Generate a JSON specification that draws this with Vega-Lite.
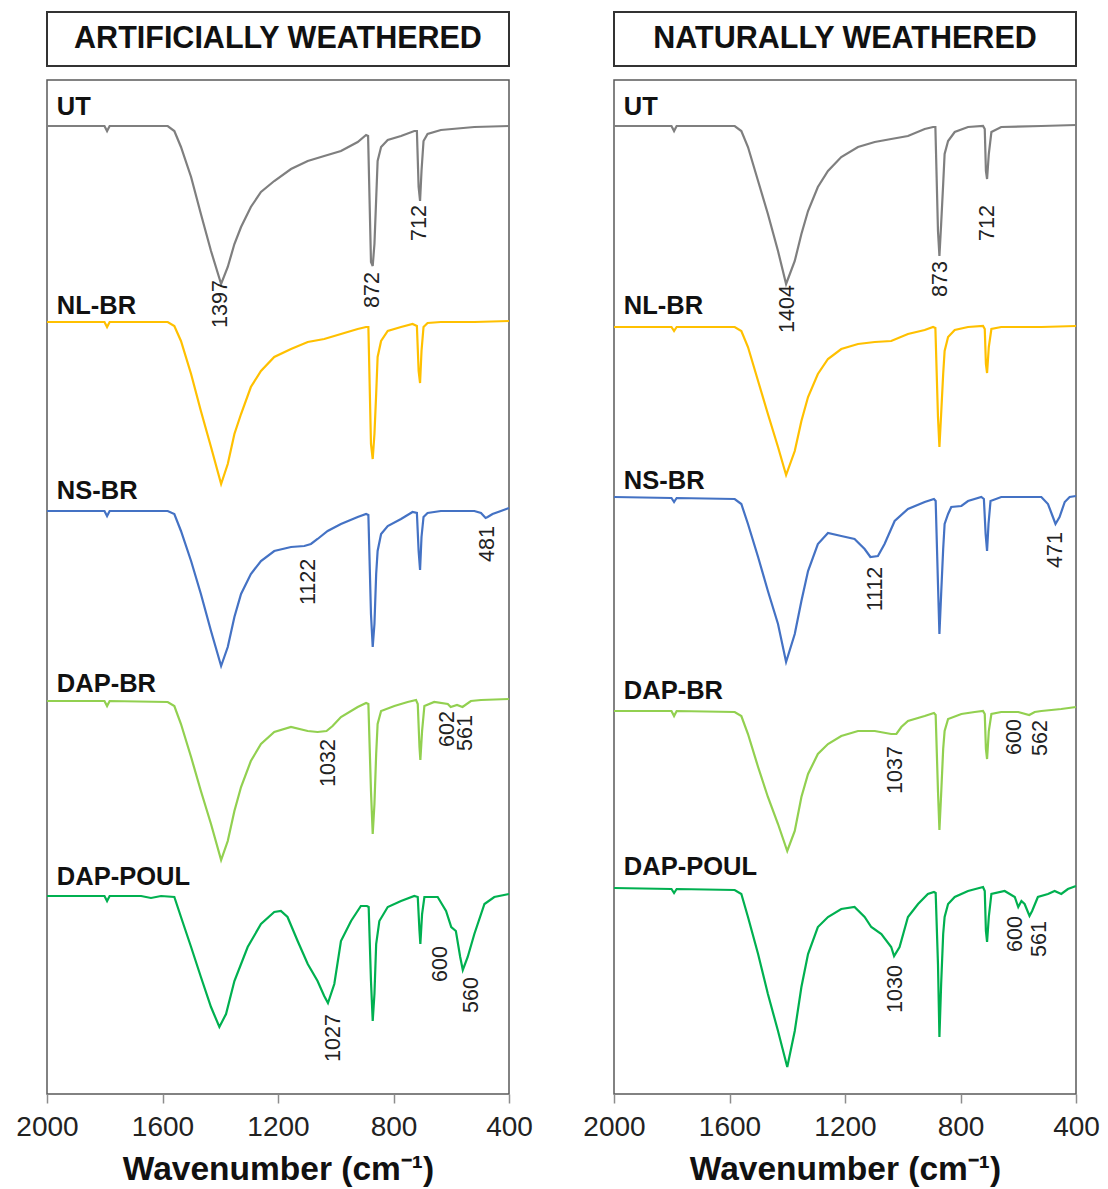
{
  "$schema": "https://vega.github.io/schema/vega-lite/v6.json",
  "padding": {"left": 15, "top": 11, "right": 2, "bottom": 0},
  "background": "white",
  "config": {
    "view": {"stroke": "#595959", "strokeWidth": 1.5},
    "font": "Liberation Sans",
    "axis": {"labelFont": "Liberation Sans", "titleFont": "Liberation Sans"}
  },
  "datasets": {
    "spectra": [
      {"p":"A","s":"UT","wn":2000,"v":968},{"p":"A","s":"UT","wn":1801,"v":968},{"p":"A","s":"UT","wn":1792,"v":963},{"p":"A","s":"UT","wn":1783,"v":968},{"p":"A","s":"UT","wn":1582,"v":968},{"p":"A","s":"UT","wn":1559,"v":963},{"p":"A","s":"UT","wn":1536,"v":947},{"p":"A","s":"UT","wn":1501,"v":917},{"p":"A","s":"UT","wn":1467,"v":880},{"p":"A","s":"UT","wn":1432,"v":843},{"p":"A","s":"UT","wn":1397,"v":810},{"p":"A","s":"UT","wn":1374,"v":827},{"p":"A","s":"UT","wn":1351,"v":850},{"p":"A","s":"UT","wn":1328,"v":867},{"p":"A","s":"UT","wn":1294,"v":887},{"p":"A","s":"UT","wn":1259,"v":902},{"p":"A","s":"UT","wn":1213,"v":913},{"p":"A","s":"UT","wn":1155,"v":925},{"p":"A","s":"UT","wn":1097,"v":933},{"p":"A","s":"UT","wn":1040,"v":938},{"p":"A","s":"UT","wn":982,"v":943},{"p":"A","s":"UT","wn":924,"v":952},{"p":"A","s":"UT","wn":895,"v":959},{"p":"A","s":"UT","wn":888,"v":958},{"p":"A","s":"UT","wn":878,"v":832},{"p":"A","s":"UT","wn":872,"v":828},{"p":"A","s":"UT","wn":866,"v":850},{"p":"A","s":"UT","wn":860,"v":895},{"p":"A","s":"UT","wn":855,"v":933},{"p":"A","s":"UT","wn":843,"v":947},{"p":"A","s":"UT","wn":820,"v":954},{"p":"A","s":"UT","wn":774,"v":958},{"p":"A","s":"UT","wn":728,"v":963},{"p":"A","s":"UT","wn":719,"v":963},{"p":"A","s":"UT","wn":713,"v":907},{"p":"A","s":"UT","wn":708,"v":893},{"p":"A","s":"UT","wn":703,"v":923},{"p":"A","s":"UT","wn":696,"v":953},{"p":"A","s":"UT","wn":682,"v":960},{"p":"A","s":"UT","wn":636,"v":964},{"p":"A","s":"UT","wn":520,"v":967},{"p":"A","s":"UT","wn":400,"v":968},

      {"p":"A","s":"NL-BR","wn":2000,"v":772},{"p":"A","s":"NL-BR","wn":1801,"v":772},{"p":"A","s":"NL-BR","wn":1792,"v":767},{"p":"A","s":"NL-BR","wn":1783,"v":772},{"p":"A","s":"NL-BR","wn":1582,"v":772},{"p":"A","s":"NL-BR","wn":1559,"v":768},{"p":"A","s":"NL-BR","wn":1536,"v":753},{"p":"A","s":"NL-BR","wn":1501,"v":720},{"p":"A","s":"NL-BR","wn":1467,"v":683},{"p":"A","s":"NL-BR","wn":1432,"v":647},{"p":"A","s":"NL-BR","wn":1397,"v":610},{"p":"A","s":"NL-BR","wn":1374,"v":630},{"p":"A","s":"NL-BR","wn":1351,"v":660},{"p":"A","s":"NL-BR","wn":1328,"v":680},{"p":"A","s":"NL-BR","wn":1294,"v":707},{"p":"A","s":"NL-BR","wn":1259,"v":723},{"p":"A","s":"NL-BR","wn":1213,"v":737},{"p":"A","s":"NL-BR","wn":1155,"v":745},{"p":"A","s":"NL-BR","wn":1097,"v":752},{"p":"A","s":"NL-BR","wn":1040,"v":755},{"p":"A","s":"NL-BR","wn":982,"v":760},{"p":"A","s":"NL-BR","wn":924,"v":765},{"p":"A","s":"NL-BR","wn":895,"v":767},{"p":"A","s":"NL-BR","wn":887,"v":767},{"p":"A","s":"NL-BR","wn":878,"v":650},{"p":"A","s":"NL-BR","wn":872,"v":635},{"p":"A","s":"NL-BR","wn":866,"v":660},{"p":"A","s":"NL-BR","wn":860,"v":700},{"p":"A","s":"NL-BR","wn":855,"v":737},{"p":"A","s":"NL-BR","wn":843,"v":753},{"p":"A","s":"NL-BR","wn":820,"v":763},{"p":"A","s":"NL-BR","wn":774,"v":767},{"p":"A","s":"NL-BR","wn":734,"v":770},{"p":"A","s":"NL-BR","wn":719,"v":768},{"p":"A","s":"NL-BR","wn":713,"v":723},{"p":"A","s":"NL-BR","wn":708,"v":711},{"p":"A","s":"NL-BR","wn":703,"v":743},{"p":"A","s":"NL-BR","wn":696,"v":767},{"p":"A","s":"NL-BR","wn":682,"v":771},{"p":"A","s":"NL-BR","wn":636,"v":772},{"p":"A","s":"NL-BR","wn":520,"v":772},{"p":"A","s":"NL-BR","wn":400,"v":773},

      {"p":"A","s":"NS-BR","wn":2000,"v":583},{"p":"A","s":"NS-BR","wn":1801,"v":583},{"p":"A","s":"NS-BR","wn":1792,"v":578},{"p":"A","s":"NS-BR","wn":1783,"v":583},{"p":"A","s":"NS-BR","wn":1582,"v":583},{"p":"A","s":"NS-BR","wn":1559,"v":580},{"p":"A","s":"NS-BR","wn":1536,"v":563},{"p":"A","s":"NS-BR","wn":1501,"v":533},{"p":"A","s":"NS-BR","wn":1467,"v":500},{"p":"A","s":"NS-BR","wn":1432,"v":463},{"p":"A","s":"NS-BR","wn":1397,"v":428},{"p":"A","s":"NS-BR","wn":1374,"v":447},{"p":"A","s":"NS-BR","wn":1351,"v":477},{"p":"A","s":"NS-BR","wn":1328,"v":500},{"p":"A","s":"NS-BR","wn":1294,"v":520},{"p":"A","s":"NS-BR","wn":1259,"v":533},{"p":"A","s":"NS-BR","wn":1213,"v":543},{"p":"A","s":"NS-BR","wn":1155,"v":547},{"p":"A","s":"NS-BR","wn":1109,"v":548},{"p":"A","s":"NS-BR","wn":1086,"v":550},{"p":"A","s":"NS-BR","wn":1063,"v":555},{"p":"A","s":"NS-BR","wn":1028,"v":563},{"p":"A","s":"NS-BR","wn":982,"v":570},{"p":"A","s":"NS-BR","wn":924,"v":577},{"p":"A","s":"NS-BR","wn":895,"v":580},{"p":"A","s":"NS-BR","wn":887,"v":579},{"p":"A","s":"NS-BR","wn":878,"v":480},{"p":"A","s":"NS-BR","wn":872,"v":447},{"p":"A","s":"NS-BR","wn":866,"v":470},{"p":"A","s":"NS-BR","wn":860,"v":520},{"p":"A","s":"NS-BR","wn":855,"v":543},{"p":"A","s":"NS-BR","wn":843,"v":560},{"p":"A","s":"NS-BR","wn":820,"v":568},{"p":"A","s":"NS-BR","wn":774,"v":575},{"p":"A","s":"NS-BR","wn":734,"v":582},{"p":"A","s":"NS-BR","wn":719,"v":581},{"p":"A","s":"NS-BR","wn":713,"v":543},{"p":"A","s":"NS-BR","wn":708,"v":524},{"p":"A","s":"NS-BR","wn":703,"v":557},{"p":"A","s":"NS-BR","wn":696,"v":577},{"p":"A","s":"NS-BR","wn":682,"v":581},{"p":"A","s":"NS-BR","wn":636,"v":583},{"p":"A","s":"NS-BR","wn":520,"v":583},{"p":"A","s":"NS-BR","wn":497,"v":581},{"p":"A","s":"NS-BR","wn":481,"v":576},{"p":"A","s":"NS-BR","wn":474,"v":577},{"p":"A","s":"NS-BR","wn":457,"v":580},{"p":"A","s":"NS-BR","wn":428,"v":583},{"p":"A","s":"NS-BR","wn":400,"v":586},

      {"p":"A","s":"DAP-BR","wn":2000,"v":393},{"p":"A","s":"DAP-BR","wn":1801,"v":393},{"p":"A","s":"DAP-BR","wn":1792,"v":388},{"p":"A","s":"DAP-BR","wn":1783,"v":393},{"p":"A","s":"DAP-BR","wn":1582,"v":392},{"p":"A","s":"DAP-BR","wn":1559,"v":388},{"p":"A","s":"DAP-BR","wn":1536,"v":370},{"p":"A","s":"DAP-BR","wn":1501,"v":337},{"p":"A","s":"DAP-BR","wn":1467,"v":303},{"p":"A","s":"DAP-BR","wn":1432,"v":270},{"p":"A","s":"DAP-BR","wn":1397,"v":234},{"p":"A","s":"DAP-BR","wn":1374,"v":253},{"p":"A","s":"DAP-BR","wn":1351,"v":283},{"p":"A","s":"DAP-BR","wn":1328,"v":307},{"p":"A","s":"DAP-BR","wn":1294,"v":333},{"p":"A","s":"DAP-BR","wn":1259,"v":350},{"p":"A","s":"DAP-BR","wn":1213,"v":362},{"p":"A","s":"DAP-BR","wn":1155,"v":367},{"p":"A","s":"DAP-BR","wn":1097,"v":363},{"p":"A","s":"DAP-BR","wn":1063,"v":362},{"p":"A","s":"DAP-BR","wn":1032,"v":363},{"p":"A","s":"DAP-BR","wn":1011,"v":368},{"p":"A","s":"DAP-BR","wn":982,"v":377},{"p":"A","s":"DAP-BR","wn":924,"v":387},{"p":"A","s":"DAP-BR","wn":895,"v":391},{"p":"A","s":"DAP-BR","wn":887,"v":390},{"p":"A","s":"DAP-BR","wn":878,"v":303},{"p":"A","s":"DAP-BR","wn":872,"v":260},{"p":"A","s":"DAP-BR","wn":866,"v":290},{"p":"A","s":"DAP-BR","wn":860,"v":340},{"p":"A","s":"DAP-BR","wn":855,"v":370},{"p":"A","s":"DAP-BR","wn":843,"v":383},{"p":"A","s":"DAP-BR","wn":797,"v":388},{"p":"A","s":"DAP-BR","wn":751,"v":392},{"p":"A","s":"DAP-BR","wn":722,"v":394},{"p":"A","s":"DAP-BR","wn":716,"v":390},{"p":"A","s":"DAP-BR","wn":710,"v":347},{"p":"A","s":"DAP-BR","wn":707,"v":334},{"p":"A","s":"DAP-BR","wn":701,"v":363},{"p":"A","s":"DAP-BR","wn":693,"v":388},{"p":"A","s":"DAP-BR","wn":659,"v":392},{"p":"A","s":"DAP-BR","wn":612,"v":390},{"p":"A","s":"DAP-BR","wn":602,"v":387},{"p":"A","s":"DAP-BR","wn":580,"v":389},{"p":"A","s":"DAP-BR","wn":561,"v":387},{"p":"A","s":"DAP-BR","wn":532,"v":393},{"p":"A","s":"DAP-BR","wn":497,"v":394},{"p":"A","s":"DAP-BR","wn":400,"v":395},

      {"p":"A","s":"DAP-POUL","wn":2000,"v":198},{"p":"A","s":"DAP-POUL","wn":1801,"v":198},{"p":"A","s":"DAP-POUL","wn":1792,"v":193},{"p":"A","s":"DAP-POUL","wn":1783,"v":198},{"p":"A","s":"DAP-POUL","wn":1674,"v":198},{"p":"A","s":"DAP-POUL","wn":1640,"v":196},{"p":"A","s":"DAP-POUL","wn":1605,"v":198},{"p":"A","s":"DAP-POUL","wn":1559,"v":197},{"p":"A","s":"DAP-POUL","wn":1536,"v":177},{"p":"A","s":"DAP-POUL","wn":1501,"v":147},{"p":"A","s":"DAP-POUL","wn":1467,"v":117},{"p":"A","s":"DAP-POUL","wn":1432,"v":87},{"p":"A","s":"DAP-POUL","wn":1403,"v":67},{"p":"A","s":"DAP-POUL","wn":1380,"v":80},{"p":"A","s":"DAP-POUL","wn":1351,"v":113},{"p":"A","s":"DAP-POUL","wn":1305,"v":147},{"p":"A","s":"DAP-POUL","wn":1259,"v":170},{"p":"A","s":"DAP-POUL","wn":1213,"v":182},{"p":"A","s":"DAP-POUL","wn":1190,"v":183},{"p":"A","s":"DAP-POUL","wn":1167,"v":177},{"p":"A","s":"DAP-POUL","wn":1132,"v":153},{"p":"A","s":"DAP-POUL","wn":1097,"v":130},{"p":"A","s":"DAP-POUL","wn":1063,"v":113},{"p":"A","s":"DAP-POUL","wn":1040,"v":98},{"p":"A","s":"DAP-POUL","wn":1027,"v":91},{"p":"A","s":"DAP-POUL","wn":1005,"v":110},{"p":"A","s":"DAP-POUL","wn":982,"v":153},{"p":"A","s":"DAP-POUL","wn":947,"v":173},{"p":"A","s":"DAP-POUL","wn":913,"v":188},{"p":"A","s":"DAP-POUL","wn":892,"v":188},{"p":"A","s":"DAP-POUL","wn":886,"v":187},{"p":"A","s":"DAP-POUL","wn":878,"v":113},{"p":"A","s":"DAP-POUL","wn":872,"v":73},{"p":"A","s":"DAP-POUL","wn":866,"v":100},{"p":"A","s":"DAP-POUL","wn":860,"v":150},{"p":"A","s":"DAP-POUL","wn":849,"v":173},{"p":"A","s":"DAP-POUL","wn":820,"v":187},{"p":"A","s":"DAP-POUL","wn":774,"v":193},{"p":"A","s":"DAP-POUL","wn":728,"v":198},{"p":"A","s":"DAP-POUL","wn":716,"v":197},{"p":"A","s":"DAP-POUL","wn":710,"v":163},{"p":"A","s":"DAP-POUL","wn":707,"v":150},{"p":"A","s":"DAP-POUL","wn":701,"v":180},{"p":"A","s":"DAP-POUL","wn":693,"v":197},{"p":"A","s":"DAP-POUL","wn":647,"v":197},{"p":"A","s":"DAP-POUL","wn":618,"v":183},{"p":"A","s":"DAP-POUL","wn":600,"v":167},{"p":"A","s":"DAP-POUL","wn":584,"v":163},{"p":"A","s":"DAP-POUL","wn":569,"v":137},{"p":"A","s":"DAP-POUL","wn":560,"v":124},{"p":"A","s":"DAP-POUL","wn":543,"v":137},{"p":"A","s":"DAP-POUL","wn":520,"v":160},{"p":"A","s":"DAP-POUL","wn":485,"v":190},{"p":"A","s":"DAP-POUL","wn":451,"v":197},{"p":"A","s":"DAP-POUL","wn":400,"v":200},

      {"p":"N","s":"UT","wn":2000,"v":968},{"p":"N","s":"UT","wn":1801,"v":968},{"p":"N","s":"UT","wn":1792,"v":963},{"p":"N","s":"UT","wn":1783,"v":968},{"p":"N","s":"UT","wn":1582,"v":968},{"p":"N","s":"UT","wn":1559,"v":963},{"p":"N","s":"UT","wn":1536,"v":947},{"p":"N","s":"UT","wn":1501,"v":913},{"p":"N","s":"UT","wn":1467,"v":880},{"p":"N","s":"UT","wn":1432,"v":843},{"p":"N","s":"UT","wn":1404,"v":810},{"p":"N","s":"UT","wn":1374,"v":833},{"p":"N","s":"UT","wn":1351,"v":860},{"p":"N","s":"UT","wn":1328,"v":883},{"p":"N","s":"UT","wn":1294,"v":907},{"p":"N","s":"UT","wn":1259,"v":923},{"p":"N","s":"UT","wn":1213,"v":937},{"p":"N","s":"UT","wn":1155,"v":947},{"p":"N","s":"UT","wn":1097,"v":952},{"p":"N","s":"UT","wn":1040,"v":955},{"p":"N","s":"UT","wn":982,"v":958},{"p":"N","s":"UT","wn":924,"v":965},{"p":"N","s":"UT","wn":895,"v":967},{"p":"N","s":"UT","wn":887,"v":967},{"p":"N","s":"UT","wn":878,"v":863},{"p":"N","s":"UT","wn":873,"v":838},{"p":"N","s":"UT","wn":867,"v":870},{"p":"N","s":"UT","wn":860,"v":910},{"p":"N","s":"UT","wn":855,"v":940},{"p":"N","s":"UT","wn":843,"v":953},{"p":"N","s":"UT","wn":820,"v":962},{"p":"N","s":"UT","wn":774,"v":967},{"p":"N","s":"UT","wn":722,"v":968},{"p":"N","s":"UT","wn":716,"v":965},{"p":"N","s":"UT","wn":712,"v":923},{"p":"N","s":"UT","wn":708,"v":915},{"p":"N","s":"UT","wn":702,"v":940},{"p":"N","s":"UT","wn":693,"v":962},{"p":"N","s":"UT","wn":659,"v":967},{"p":"N","s":"UT","wn":520,"v":968},{"p":"N","s":"UT","wn":400,"v":969},

      {"p":"N","s":"NL-BR","wn":2000,"v":767},{"p":"N","s":"NL-BR","wn":1801,"v":767},{"p":"N","s":"NL-BR","wn":1792,"v":763},{"p":"N","s":"NL-BR","wn":1783,"v":767},{"p":"N","s":"NL-BR","wn":1582,"v":767},{"p":"N","s":"NL-BR","wn":1559,"v":763},{"p":"N","s":"NL-BR","wn":1536,"v":747},{"p":"N","s":"NL-BR","wn":1501,"v":713},{"p":"N","s":"NL-BR","wn":1467,"v":680},{"p":"N","s":"NL-BR","wn":1432,"v":647},{"p":"N","s":"NL-BR","wn":1404,"v":619},{"p":"N","s":"NL-BR","wn":1374,"v":643},{"p":"N","s":"NL-BR","wn":1351,"v":673},{"p":"N","s":"NL-BR","wn":1328,"v":697},{"p":"N","s":"NL-BR","wn":1294,"v":720},{"p":"N","s":"NL-BR","wn":1259,"v":735},{"p":"N","s":"NL-BR","wn":1213,"v":745},{"p":"N","s":"NL-BR","wn":1155,"v":750},{"p":"N","s":"NL-BR","wn":1097,"v":752},{"p":"N","s":"NL-BR","wn":1040,"v":753},{"p":"N","s":"NL-BR","wn":982,"v":760},{"p":"N","s":"NL-BR","wn":924,"v":764},{"p":"N","s":"NL-BR","wn":895,"v":767},{"p":"N","s":"NL-BR","wn":887,"v":766},{"p":"N","s":"NL-BR","wn":878,"v":677},{"p":"N","s":"NL-BR","wn":873,"v":647},{"p":"N","s":"NL-BR","wn":867,"v":680},{"p":"N","s":"NL-BR","wn":860,"v":720},{"p":"N","s":"NL-BR","wn":855,"v":743},{"p":"N","s":"NL-BR","wn":843,"v":757},{"p":"N","s":"NL-BR","wn":820,"v":764},{"p":"N","s":"NL-BR","wn":774,"v":767},{"p":"N","s":"NL-BR","wn":722,"v":768},{"p":"N","s":"NL-BR","wn":716,"v":765},{"p":"N","s":"NL-BR","wn":712,"v":730},{"p":"N","s":"NL-BR","wn":708,"v":721},{"p":"N","s":"NL-BR","wn":702,"v":747},{"p":"N","s":"NL-BR","wn":693,"v":765},{"p":"N","s":"NL-BR","wn":659,"v":767},{"p":"N","s":"NL-BR","wn":520,"v":767},{"p":"N","s":"NL-BR","wn":400,"v":768},

      {"p":"N","s":"NS-BR","wn":2000,"v":597},{"p":"N","s":"NS-BR","wn":1801,"v":596},{"p":"N","s":"NS-BR","wn":1792,"v":592},{"p":"N","s":"NS-BR","wn":1783,"v":596},{"p":"N","s":"NS-BR","wn":1582,"v":595},{"p":"N","s":"NS-BR","wn":1559,"v":590},{"p":"N","s":"NS-BR","wn":1536,"v":570},{"p":"N","s":"NS-BR","wn":1501,"v":537},{"p":"N","s":"NS-BR","wn":1467,"v":503},{"p":"N","s":"NS-BR","wn":1432,"v":470},{"p":"N","s":"NS-BR","wn":1404,"v":432},{"p":"N","s":"NS-BR","wn":1374,"v":460},{"p":"N","s":"NS-BR","wn":1351,"v":493},{"p":"N","s":"NS-BR","wn":1328,"v":523},{"p":"N","s":"NS-BR","wn":1294,"v":550},{"p":"N","s":"NS-BR","wn":1259,"v":561},{"p":"N","s":"NS-BR","wn":1213,"v":558},{"p":"N","s":"NS-BR","wn":1167,"v":555},{"p":"N","s":"NS-BR","wn":1132,"v":545},{"p":"N","s":"NS-BR","wn":1112,"v":537},{"p":"N","s":"NS-BR","wn":1086,"v":538},{"p":"N","s":"NS-BR","wn":1063,"v":550},{"p":"N","s":"NS-BR","wn":1028,"v":573},{"p":"N","s":"NS-BR","wn":982,"v":585},{"p":"N","s":"NS-BR","wn":924,"v":592},{"p":"N","s":"NS-BR","wn":892,"v":595},{"p":"N","s":"NS-BR","wn":886,"v":593},{"p":"N","s":"NS-BR","wn":878,"v":510},{"p":"N","s":"NS-BR","wn":873,"v":460},{"p":"N","s":"NS-BR","wn":867,"v":500},{"p":"N","s":"NS-BR","wn":860,"v":545},{"p":"N","s":"NS-BR","wn":855,"v":570},{"p":"N","s":"NS-BR","wn":843,"v":580},{"p":"N","s":"NS-BR","wn":832,"v":587},{"p":"N","s":"NS-BR","wn":797,"v":588},{"p":"N","s":"NS-BR","wn":774,"v":593},{"p":"N","s":"NS-BR","wn":728,"v":597},{"p":"N","s":"NS-BR","wn":719,"v":595},{"p":"N","s":"NS-BR","wn":713,"v":560},{"p":"N","s":"NS-BR","wn":708,"v":543},{"p":"N","s":"NS-BR","wn":703,"v":570},{"p":"N","s":"NS-BR","wn":696,"v":593},{"p":"N","s":"NS-BR","wn":659,"v":597},{"p":"N","s":"NS-BR","wn":520,"v":597},{"p":"N","s":"NS-BR","wn":497,"v":590},{"p":"N","s":"NS-BR","wn":480,"v":577},{"p":"N","s":"NS-BR","wn":471,"v":570},{"p":"N","s":"NS-BR","wn":457,"v":577},{"p":"N","s":"NS-BR","wn":439,"v":592},{"p":"N","s":"NS-BR","wn":422,"v":597},{"p":"N","s":"NS-BR","wn":400,"v":598},

      {"p":"N","s":"DAP-BR","wn":2000,"v":383},{"p":"N","s":"DAP-BR","wn":1801,"v":383},{"p":"N","s":"DAP-BR","wn":1792,"v":378},{"p":"N","s":"DAP-BR","wn":1783,"v":383},{"p":"N","s":"DAP-BR","wn":1582,"v":382},{"p":"N","s":"DAP-BR","wn":1559,"v":378},{"p":"N","s":"DAP-BR","wn":1536,"v":360},{"p":"N","s":"DAP-BR","wn":1501,"v":327},{"p":"N","s":"DAP-BR","wn":1467,"v":297},{"p":"N","s":"DAP-BR","wn":1432,"v":270},{"p":"N","s":"DAP-BR","wn":1400,"v":243},{"p":"N","s":"DAP-BR","wn":1374,"v":263},{"p":"N","s":"DAP-BR","wn":1351,"v":297},{"p":"N","s":"DAP-BR","wn":1328,"v":320},{"p":"N","s":"DAP-BR","wn":1294,"v":340},{"p":"N","s":"DAP-BR","wn":1259,"v":350},{"p":"N","s":"DAP-BR","wn":1213,"v":358},{"p":"N","s":"DAP-BR","wn":1155,"v":363},{"p":"N","s":"DAP-BR","wn":1097,"v":363},{"p":"N","s":"DAP-BR","wn":1040,"v":360},{"p":"N","s":"DAP-BR","wn":1022,"v":360},{"p":"N","s":"DAP-BR","wn":1005,"v":367},{"p":"N","s":"DAP-BR","wn":982,"v":373},{"p":"N","s":"DAP-BR","wn":924,"v":378},{"p":"N","s":"DAP-BR","wn":892,"v":381},{"p":"N","s":"DAP-BR","wn":886,"v":379},{"p":"N","s":"DAP-BR","wn":878,"v":303},{"p":"N","s":"DAP-BR","wn":873,"v":264},{"p":"N","s":"DAP-BR","wn":867,"v":300},{"p":"N","s":"DAP-BR","wn":860,"v":345},{"p":"N","s":"DAP-BR","wn":855,"v":363},{"p":"N","s":"DAP-BR","wn":843,"v":375},{"p":"N","s":"DAP-BR","wn":797,"v":380},{"p":"N","s":"DAP-BR","wn":751,"v":382},{"p":"N","s":"DAP-BR","wn":722,"v":383},{"p":"N","s":"DAP-BR","wn":716,"v":380},{"p":"N","s":"DAP-BR","wn":712,"v":345},{"p":"N","s":"DAP-BR","wn":708,"v":335},{"p":"N","s":"DAP-BR","wn":702,"v":363},{"p":"N","s":"DAP-BR","wn":693,"v":380},{"p":"N","s":"DAP-BR","wn":659,"v":382},{"p":"N","s":"DAP-BR","wn":600,"v":382},{"p":"N","s":"DAP-BR","wn":562,"v":379},{"p":"N","s":"DAP-BR","wn":543,"v":382},{"p":"N","s":"DAP-BR","wn":520,"v":383},{"p":"N","s":"DAP-BR","wn":451,"v":385},{"p":"N","s":"DAP-BR","wn":400,"v":387},

      {"p":"N","s":"DAP-POUL","wn":2000,"v":206},{"p":"N","s":"DAP-POUL","wn":1801,"v":205},{"p":"N","s":"DAP-POUL","wn":1792,"v":201},{"p":"N","s":"DAP-POUL","wn":1783,"v":205},{"p":"N","s":"DAP-POUL","wn":1582,"v":204},{"p":"N","s":"DAP-POUL","wn":1559,"v":200},{"p":"N","s":"DAP-POUL","wn":1536,"v":177},{"p":"N","s":"DAP-POUL","wn":1501,"v":140},{"p":"N","s":"DAP-POUL","wn":1467,"v":100},{"p":"N","s":"DAP-POUL","wn":1432,"v":63},{"p":"N","s":"DAP-POUL","wn":1400,"v":27},{"p":"N","s":"DAP-POUL","wn":1374,"v":63},{"p":"N","s":"DAP-POUL","wn":1351,"v":107},{"p":"N","s":"DAP-POUL","wn":1328,"v":140},{"p":"N","s":"DAP-POUL","wn":1294,"v":167},{"p":"N","s":"DAP-POUL","wn":1259,"v":177},{"p":"N","s":"DAP-POUL","wn":1213,"v":185},{"p":"N","s":"DAP-POUL","wn":1167,"v":187},{"p":"N","s":"DAP-POUL","wn":1132,"v":177},{"p":"N","s":"DAP-POUL","wn":1109,"v":167},{"p":"N","s":"DAP-POUL","wn":1074,"v":160},{"p":"N","s":"DAP-POUL","wn":1040,"v":147},{"p":"N","s":"DAP-POUL","wn":1030,"v":138},{"p":"N","s":"DAP-POUL","wn":1011,"v":147},{"p":"N","s":"DAP-POUL","wn":982,"v":177},{"p":"N","s":"DAP-POUL","wn":947,"v":190},{"p":"N","s":"DAP-POUL","wn":913,"v":200},{"p":"N","s":"DAP-POUL","wn":892,"v":202},{"p":"N","s":"DAP-POUL","wn":886,"v":201},{"p":"N","s":"DAP-POUL","wn":878,"v":130},{"p":"N","s":"DAP-POUL","wn":873,"v":57},{"p":"N","s":"DAP-POUL","wn":867,"v":110},{"p":"N","s":"DAP-POUL","wn":860,"v":160},{"p":"N","s":"DAP-POUL","wn":855,"v":177},{"p":"N","s":"DAP-POUL","wn":843,"v":190},{"p":"N","s":"DAP-POUL","wn":820,"v":197},{"p":"N","s":"DAP-POUL","wn":774,"v":203},{"p":"N","s":"DAP-POUL","wn":722,"v":207},{"p":"N","s":"DAP-POUL","wn":716,"v":203},{"p":"N","s":"DAP-POUL","wn":712,"v":163},{"p":"N","s":"DAP-POUL","wn":708,"v":152},{"p":"N","s":"DAP-POUL","wn":702,"v":177},{"p":"N","s":"DAP-POUL","wn":693,"v":200},{"p":"N","s":"DAP-POUL","wn":647,"v":203},{"p":"N","s":"DAP-POUL","wn":612,"v":197},{"p":"N","s":"DAP-POUL","wn":600,"v":187},{"p":"N","s":"DAP-POUL","wn":589,"v":193},{"p":"N","s":"DAP-POUL","wn":578,"v":190},{"p":"N","s":"DAP-POUL","wn":561,"v":178},{"p":"N","s":"DAP-POUL","wn":552,"v":183},{"p":"N","s":"DAP-POUL","wn":532,"v":197},{"p":"N","s":"DAP-POUL","wn":497,"v":200},{"p":"N","s":"DAP-POUL","wn":474,"v":203},{"p":"N","s":"DAP-POUL","wn":451,"v":200},{"p":"N","s":"DAP-POUL","wn":428,"v":205},{"p":"N","s":"DAP-POUL","wn":400,"v":208}
    ],
    "peaks": [
      {"p":"A","t":"1397","wn":1397,"v":790},{"p":"A","t":"872","wn":871,"v":804},{"p":"A","t":"712","wn":707,"v":871},
      {"p":"A","t":"1122","wn":1093,"v":512},{"p":"A","t":"481","wn":473,"v":550},
      {"p":"A","t":"1032","wn":1023,"v":331},{"p":"A","t":"602","wn":611,"v":365},{"p":"A","t":"561","wn":549,"v":361},
      {"p":"A","t":"1027","wn":1006,"v":56},{"p":"A","t":"600","wn":635,"v":130},{"p":"A","t":"560","wn":528,"v":99},
      {"p":"N","t":"1404","wn":1397,"v":785},{"p":"N","t":"873","wn":867,"v":815},{"p":"N","t":"712","wn":705,"v":871},
      {"p":"N","t":"1112","wn":1093,"v":505},{"p":"N","t":"471","wn":469,"v":544},
      {"p":"N","t":"1037","wn":1023,"v":324},{"p":"N","t":"600","wn":611,"v":357},{"p":"N","t":"562","wn":521,"v":356},
      {"p":"N","t":"1030","wn":1023,"v":105},{"p":"N","t":"600","wn":608,"v":160},{"p":"N","t":"561","wn":525,"v":155}
    ],
    "names": [
      {"p":"A","t":"UT","wn":1966,"v":987},{"p":"A","t":"NL-BR","wn":1966,"v":788},{"p":"A","t":"NS-BR","wn":1966,"v":603},{"p":"A","t":"DAP-BR","wn":1966,"v":410},{"p":"A","t":"DAP-POUL","wn":1966,"v":217},
      {"p":"N","t":"UT","wn":1966,"v":987},{"p":"N","t":"NL-BR","wn":1966,"v":788},{"p":"N","t":"NS-BR","wn":1966,"v":613},{"p":"N","t":"DAP-BR","wn":1966,"v":403},{"p":"N","t":"DAP-POUL","wn":1966,"v":227}
    ]
  },
  "hconcat": [
    {
      "spacing": 12,
      "vconcat": [
        {
          "width": 462, "height": 54,
          "view": {"stroke": "#333333", "strokeWidth": 2},
          "data": {"values": [{"t": "ARTIFICIALLY WEATHERED"}]},
          "mark": {"type": "text", "font": "Liberation Sans", "fontSize": 30.5, "fontWeight": "bold", "color": "#111111"},
          "encoding": {"text": {"field": "t"}}
        },
        {
          "width": 462, "height": 1014,
          "encoding": {
            "x": {"field": "wn", "type": "quantitative",
                  "scale": {"domain": [400, 2000], "reverse": true, "nice": false, "zero": false},
                  "axis": {"values": [2000, 1600, 1200, 800, 400], "format": "d", "domain": false, "grid": false, "labelFlush": false,
                           "tickSize": 9, "tickColor": "#8c8c8c", "tickWidth": 1.5, "labelFontSize": 28, "labelColor": "#222222",
                           "labelPadding": 10, "title": "Wavenumber (cm⁻¹)", "titleFontSize": 33.5, "titleFontWeight": "bold",
                           "titleColor": "#111111", "titlePadding": 12}},
            "y": {"field": "v", "type": "quantitative", "scale": {"domain": [0, 1014], "nice": false, "zero": false}, "axis": null}
          },
          "layer": [
            {
              "data": {"name": "spectra"},
              "transform": [{"filter": "datum.p === 'A'"}],
              "mark": {"type": "line", "strokeWidth": 2.2, "interpolate": "linear"},
              "encoding": {"color": {"field": "s", "type": "nominal", "legend": null,
                "scale": {"domain": ["UT", "NL-BR", "NS-BR", "DAP-BR", "DAP-POUL"], "range": ["#7f7f7f", "#ffc000", "#4472c4", "#92d050", "#00b050"]}}}
            },
            {
              "data": {"name": "peaks"},
              "transform": [{"filter": "datum.p === 'A'"}],
              "mark": {"type": "text", "angle": 270, "align": "center", "baseline": "middle", "fontSize": 21.5, "font": "Liberation Sans", "color": "#222222"},
              "encoding": {"text": {"field": "t"}}
            },
            {
              "data": {"name": "names"},
              "transform": [{"filter": "datum.p === 'A'"}],
              "mark": {"type": "text", "align": "left", "baseline": "middle", "fontSize": 25.5, "fontWeight": "bold", "font": "Liberation Sans", "color": "#111111"},
              "encoding": {"text": {"field": "t"}}
            }
          ]
        }
      ]
    },
    {
      "spacing": 12,
      "vconcat": [
        {
          "width": 462, "height": 54,
          "view": {"stroke": "#333333", "strokeWidth": 2},
          "data": {"values": [{"t": "NATURALLY WEATHERED"}]},
          "mark": {"type": "text", "font": "Liberation Sans", "fontSize": 30.5, "fontWeight": "bold", "color": "#111111"},
          "encoding": {"text": {"field": "t"}}
        },
        {
          "width": 462, "height": 1014,
          "encoding": {
            "x": {"field": "wn", "type": "quantitative",
                  "scale": {"domain": [400, 2000], "reverse": true, "nice": false, "zero": false},
                  "axis": {"values": [2000, 1600, 1200, 800, 400], "format": "d", "domain": false, "grid": false, "labelFlush": false,
                           "tickSize": 9, "tickColor": "#8c8c8c", "tickWidth": 1.5, "labelFontSize": 28, "labelColor": "#222222",
                           "labelPadding": 10, "title": "Wavenumber (cm⁻¹)", "titleFontSize": 33.5, "titleFontWeight": "bold",
                           "titleColor": "#111111", "titlePadding": 12}},
            "y": {"field": "v", "type": "quantitative", "scale": {"domain": [0, 1014], "nice": false, "zero": false}, "axis": null}
          },
          "layer": [
            {
              "data": {"name": "spectra"},
              "transform": [{"filter": "datum.p === 'N'"}],
              "mark": {"type": "line", "strokeWidth": 2.2, "interpolate": "linear"},
              "encoding": {"color": {"field": "s", "type": "nominal", "legend": null,
                "scale": {"domain": ["UT", "NL-BR", "NS-BR", "DAP-BR", "DAP-POUL"], "range": ["#7f7f7f", "#ffc000", "#4472c4", "#92d050", "#00b050"]}}}
            },
            {
              "data": {"name": "peaks"},
              "transform": [{"filter": "datum.p === 'N'"}],
              "mark": {"type": "text", "angle": 270, "align": "center", "baseline": "middle", "fontSize": 21.5, "font": "Liberation Sans", "color": "#222222"},
              "encoding": {"text": {"field": "t"}}
            },
            {
              "data": {"name": "names"},
              "transform": [{"filter": "datum.p === 'N'"}],
              "mark": {"type": "text", "align": "left", "baseline": "middle", "fontSize": 25.5, "fontWeight": "bold", "font": "Liberation Sans", "color": "#111111"},
              "encoding": {"text": {"field": "t"}}
            }
          ]
        }
      ]
    }
  ],
  "spacing": 48
}
